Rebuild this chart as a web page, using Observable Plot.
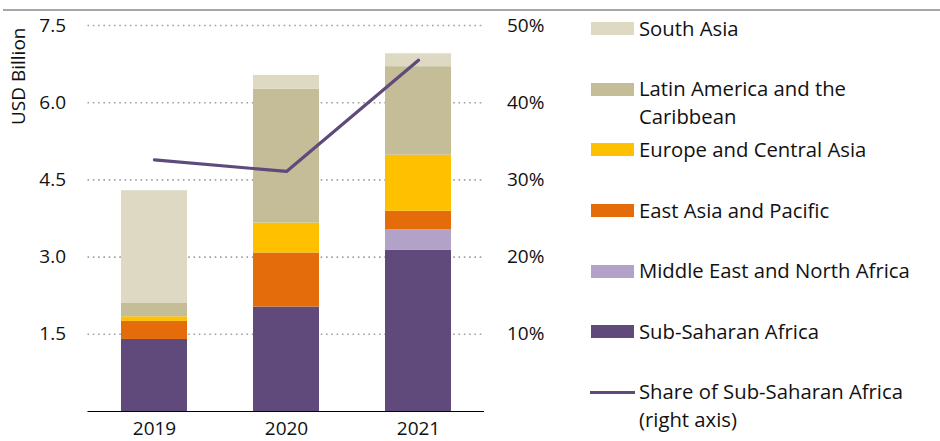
<!DOCTYPE html>
<html>
<head>
<meta charset="utf-8">
<script src="https://cdn.jsdelivr.net/npm/d3@7"></script>
<script src="https://cdn.jsdelivr.net/npm/@observablehq/plot@0.6"></script>
<style>
  html, body { margin: 0; padding: 0; background: #fff; }
  #wrap { position: relative; width: 940px; height: 441px; overflow: hidden; font-family: "Open Sans", sans-serif; color: #111; }
  #topline { position: absolute; left: 3px; top: 9px; width: 937px; height: 1.6px; background: #a6a6a6; }
  #chart { position: absolute; left: 0; top: 0; }
  .item { position: absolute; left: 591px; }
  .sw { position: absolute; left: 0; width: 43px; height: 13px; }
  .ln { position: absolute; left: -1px; width: 45px; height: 3px; }
  .lab { position: absolute; left: 48px; top: 0; font-size: 20.3px; line-height: 28px; white-space: nowrap; }
</style>
</head>
<body>
<div id="wrap">
  <div id="topline"></div>
  <div id="chart"></div>
  <div id="legend"></div>
</div>
<script>
const years = ["2019", "2020", "2021"];
const regions = ["Sub-Saharan Africa", "Middle East and North Africa", "East Asia and Pacific", "Europe and Central Asia", "Latin America and the Caribbean", "South Asia"];
const colors = ["#604a7b", "#b3a2c7", "#e46c0a", "#ffc000", "#c4bd97", "#ddd9c3"];
const subSaharanAfrica = [1.40, 2.03, 3.13];
const middleEastNorthAfrica = [0, 0, 0.40];
const eastAsiaPacific = [0.35, 1.05, 0.36];
const europeCentralAsia = [0.09, 0.58, 1.09];
const latinAmericaCaribbean = [0.27, 2.60, 1.72];
const southAsia = [2.18, 0.27, 0.25];
const shareSSA = [32.6, 31.1, 45.5];
const leftTicks = [1.5, 3.0, 4.5, 6.0, 7.5];
const rightTicks = [10, 20, 30, 40, 50];

const series = [subSaharanAfrica, middleEastNorthAfrica, eastAsiaPacific, europeCentralAsia, latinAmericaCaribbean, southAsia];
const table = [];
regions.forEach((r, i) => years.forEach((y, j) => table.push({year: y, region: r, value: series[i][j]})));
const shareRows = years.map((y, j) => ({year: y, share: shareSSA[j]}));
const yMax = 7.5, pMax = 50;
const toY = p => p * yMax / pMax;

const plot = Plot.plot({
  width: 560,
  height: 441,
  marginLeft: 87.5,
  marginRight: 76,
  marginTop: 25,
  marginBottom: 30,
  style: {fontFamily: "'Open Sans', sans-serif", fontSize: "19px", color: "#111", background: "transparent", overflow: "visible"},
  x: {domain: years, paddingInner: 0.5, paddingOuter: 0.25, axis: null},
  y: {domain: [0, yMax], axis: null},
  color: {domain: regions, range: colors},
  marks: [
    Plot.gridY(leftTicks, {stroke: "#a0a0a0", strokeOpacity: 1, strokeWidth: 1.6, strokeDasharray: "1.6,3.7"}),
    Plot.barY(table, {x: "year", y: "value", fill: "region", order: regions}),
    Plot.ruleY([0], {stroke: "#000", strokeWidth: 1.2}),
    Plot.line(shareRows, {x: "year", y: d => toY(d.share), stroke: "#5e4a7c", strokeWidth: 3.2}),
    Plot.axisY(leftTicks, {anchor: "left", tickSize: 0, tickPadding: 22, label: null, tickFormat: d => d.toFixed(1), fontSize: 19}),
    Plot.axisY(rightTicks.map(toY), {anchor: "right", tickSize: 0, tickPadding: 22.5, label: null, tickFormat: d => Math.round(d * pMax / yMax) + "%", fontSize: 19}),
    Plot.axisX(years, {anchor: "bottom", tickSize: 0, tickPadding: 10, label: null, fontSize: 19}),
    Plot.text(["USD Billion"], {frameAnchor: "top-left", rotate: -90, textAnchor: "end", lineAnchor: "middle", dx: -69.5, dy: 2, fontSize: 19})
  ]
});
document.getElementById("chart").appendChild(plot);

// legend (top to bottom: reverse stack order, then the line)
const legend = document.getElementById("legend");
const items = regions.map((r, i) => ({label: r === "Latin America and the Caribbean" ? "Latin America and the<br>Caribbean" : r, color: colors[i], type: "sw"})).reverse();
items.push({label: "Share of Sub-Saharan Africa<br>(right axis)", color: "#5e4a7c", type: "ln"});
items.forEach((it, i) => {
  const cy = 28.7 + i * 60.6;
  const div = document.createElement("div");
  div.className = "item";
  div.style.top = (cy - 15) + "px";
  const mark = document.createElement("div");
  mark.className = it.type;
  mark.style.background = it.color;
  mark.style.top = it.type === "sw" ? "8.5px" : "13.5px";
  const lab = document.createElement("div");
  lab.className = "lab";
  lab.innerHTML = it.label;
  div.appendChild(mark);
  div.appendChild(lab);
  legend.appendChild(div);
});
</script>
</body>
</html>
